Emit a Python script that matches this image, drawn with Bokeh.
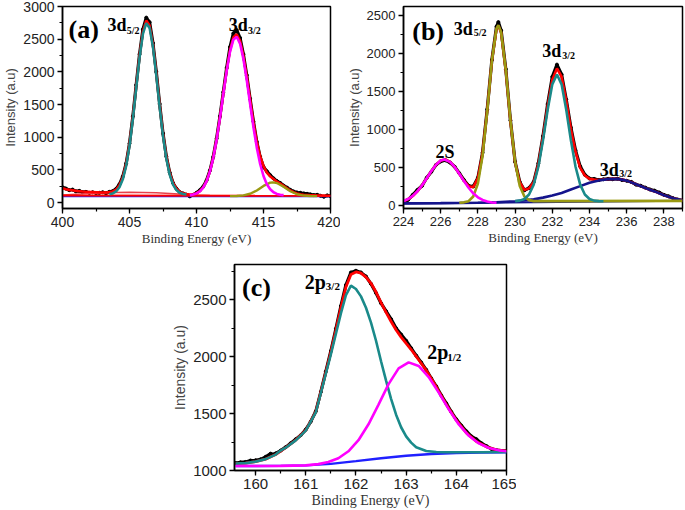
from bokeh.plotting import figure
from bokeh.models import Label, Spacer, SingleIntervalTicker
from bokeh.layouts import row, column
from bokeh.embed import file_html
from bokeh.resources import INLINE

# ---------------- Panel (a) data ----------------
a_x = [400.0, 400.25, 400.5, 400.75, 401.0, 401.25, 401.5, 401.75, 402.0, 402.25, 402.5, 402.75,
       403.0, 403.25, 403.5, 403.75, 404.0, 404.25, 404.5, 404.75, 405.0, 405.25, 405.5, 405.75,
       406.0, 406.25, 406.5, 406.75, 407.0, 407.25, 407.5, 407.75, 408.0, 408.25, 408.5, 408.75,
       409.0, 409.25, 409.5, 409.75, 410.0, 410.25, 410.5, 410.75, 411.0, 411.25, 411.5, 411.75,
       412.0, 412.25, 412.5, 412.75, 413.0, 413.25, 413.5, 413.75, 414.0, 414.25, 414.5, 414.75,
       415.0, 415.25, 415.5, 415.75, 416.0, 416.25, 416.5, 416.75, 417.0, 417.25, 417.5, 417.75,
       418.0, 418.25, 418.5, 418.75, 419.0, 419.25, 419.5, 419.75, 420.0]
a_data = [235, 215, 190, 200, 172, 180, 160, 165, 150, 158, 148, 150,
          158, 145, 165, 175, 210, 280, 400, 600, 905, 1320, 1800, 2270,
          2650, 2830, 2760, 2440, 2000, 1510, 1060, 705, 460, 300, 215, 160,
          140, 122, 95, 120, 150, 190, 245, 340, 490, 700, 980, 1320,
          1690, 2060, 2380, 2590, 2640, 2520, 2270, 1950, 1590, 1240, 930, 700,
          545, 480, 420, 370, 330, 300, 260, 230, 195, 170, 155, 150,
          140, 135, 125, 115, 120, 105, 90, 110, 100]
a_fit = [220, 205, 195, 188, 180, 175, 170, 166, 162, 160, 158, 156,
         155, 156, 162, 171, 200, 265, 386, 591, 898, 1309, 1784, 2250,
         2615, 2785, 2710, 2415, 1980, 1495, 1050, 700, 455, 300, 212, 165,
         142, 130, 125, 128, 145, 177, 235, 330, 480, 690, 968, 1305,
         1670, 2030, 2330, 2525, 2575, 2475, 2245, 1930, 1580, 1230, 930, 710,
         560, 460, 400, 360, 320, 290, 255, 220, 185, 160, 140, 128,
         120, 116, 112, 111, 110, 109, 108, 106, 105]
a_p1_x = [403.5, 403.75, 404.0, 404.25, 404.5, 404.75, 405.0, 405.25, 405.5, 405.75, 406.0, 406.25,
          406.5, 406.75, 407.0, 407.25, 407.5, 407.75, 408.0, 408.25, 408.5, 408.75, 409.0, 409.25]
a_p1_y = [128, 141, 171, 235, 356, 561, 868, 1279, 1754, 2220, 2580, 2745,
          2673, 2382, 1947, 1464, 1021, 671, 427, 276, 192, 150, 132, 124]
a_p2_x = [409.5, 409.75, 410.0, 410.25, 410.5, 410.75, 411.0, 411.25, 411.5, 411.75, 412.0, 412.25,
          412.5, 412.75, 413.0, 413.25, 413.5, 413.75, 414.0, 414.25, 414.5, 414.75, 415.0, 415.25,
          415.5, 415.75, 416.0, 416.25, 416.5]
a_p2_y = [115, 124, 141, 173, 231, 326, 473, 683, 959, 1293, 1657, 2012,
          2306, 2492, 2537, 2433, 2199, 1874, 1511, 1154, 841, 591, 407, 282,
          204, 158, 133, 120, 114]
a_p3_x = [412.5, 413.0, 413.5, 414.0, 414.5, 415.0, 415.5, 415.7, 416.0, 416.5, 417.0, 417.5, 418.0, 418.5, 419.0]
a_p3_y = [100, 102, 111, 135, 186, 255, 305, 310, 299, 242, 174, 128, 108, 102, 100]
a_broad_x = [400, 401, 402, 403, 404, 405, 406, 407, 408, 409, 410, 411]
a_broad_y = [118, 128, 138, 147, 153, 157, 155, 150, 140, 128, 116, 108]
a_bg_x = [400, 420]
a_bg_red = [108, 104]
a_bg_blue = [98, 98]

# ---------------- Panel (b) data ----------------
b_x = [224.0, 224.25, 224.5, 224.75, 225.0, 225.25, 225.5, 225.75, 226.0, 226.25, 226.5, 226.75,
       227.0, 227.25, 227.5, 227.75, 228.0, 228.25, 228.5, 228.75, 229.0, 229.1, 229.25, 229.5,
       229.75, 230.0, 230.25, 230.5, 230.75, 231.0, 231.25, 231.5, 231.75, 232.0, 232.25, 232.5,
       232.75, 233.0, 233.25, 233.5, 233.75, 234.0, 234.25, 234.5, 234.75, 235.0, 235.25, 235.5,
       235.75, 236.0, 236.25, 236.5, 236.75, 237.0, 237.25, 237.5, 237.75, 238.0, 238.25, 238.5,
       238.75, 239.0]
b_data = [40, 70, 135, 200, 255, 360, 440, 530, 575, 590, 560, 505,
          420, 330, 255, 245, 360, 690, 1260, 1910, 2350, 2410, 2300, 1790,
          1115, 570, 305, 195, 225, 305, 550, 910, 1330, 1690, 1850, 1720,
          1390, 1020, 720, 510, 400, 350, 345, 330, 340, 345, 340, 348,
          330, 320, 305, 270, 255, 230, 205, 190, 165, 135, 115, 90,
          72, 60]
b_fit = [51, 78, 120, 181, 261, 354, 450, 532, 586, 600, 570, 503,
         413, 321, 249, 236, 354, 683, 1248, 1897, 2318, 2365, 2270, 1770,
         1105, 562, 300, 200, 220, 300, 540, 898, 1306, 1650, 1800, 1690,
         1370, 1000, 700, 490, 390, 345, 335, 330, 338, 342, 345, 345,
         335, 322, 300, 275, 250, 225, 202, 180, 155, 130, 110, 90,
         75, 62]
b_2s_x = [224.0, 224.25, 224.5, 224.75, 225.0, 225.25, 225.5, 225.75, 226.0, 226.2, 226.5, 226.75,
          227.0, 227.25, 227.5, 227.75, 228.0, 228.25, 228.5, 228.75, 229.0]
b_2s_y = [54, 80, 122, 182, 261, 354, 450, 532, 586, 600, 569, 502,
          412, 316, 228, 155, 103, 68, 47, 35, 30]
b_p1_x = [227.0, 227.25, 227.5, 227.75, 228.0, 228.25, 228.5, 228.75, 229.0, 229.1, 229.25, 229.5,
          229.75, 230.0, 230.25, 230.5, 230.75, 231.0, 232.0, 239.0]
b_p1_y = [30, 36, 52, 113, 283, 648, 1233, 1895, 2325, 2370, 2275, 1776,
          1112, 569, 252, 112, 65, 52, 52, 55]
b_p2_x = [230.0, 230.25, 230.5, 230.75, 231.0, 231.25, 231.5, 231.75, 232.0, 232.25, 232.5, 232.75,
          233.0, 233.25, 233.5, 233.75, 234.0, 234.25, 234.5, 234.75]
b_p2_y = [52, 59, 81, 139, 269, 505, 853, 1256, 1590, 1720, 1590, 1256,
          853, 505, 269, 139, 81, 59, 52, 50]
b_p3_x = [224, 226, 228, 229, 230, 231, 231.5, 232, 232.5, 233, 233.5, 234, 234.5, 235, 235.5,
          236, 236.5, 237, 237.5, 238, 238.5, 239]
b_p3_y = [22, 26, 31, 38, 50, 75, 98, 125, 160, 205, 250, 295, 325, 342, 345,
          322, 275, 225, 180, 130, 90, 62]
b_bg_x = [224, 239]
b_bg_y = [22, 57]

# ---------------- Panel (c) data ----------------
c_x = [159.6, 159.7, 159.8, 159.9, 160.0, 160.1, 160.2, 160.3, 160.35, 160.4, 160.5, 160.6,
       160.7, 160.8, 160.9, 161.0, 161.1, 161.2, 161.3, 161.4, 161.5, 161.6, 161.7, 161.8,
       161.9, 162.0, 162.1, 162.2, 162.3, 162.4, 162.5, 162.6, 162.7, 162.8, 162.9, 163.0,
       163.1, 163.2, 163.3, 163.4, 163.5, 163.6, 163.7, 163.8, 163.9, 164.0, 164.1, 164.2,
       164.3, 164.4, 164.5, 164.6, 164.7, 164.8, 165.0]
c_data = [1065, 1072, 1075, 1088, 1090, 1098, 1120, 1148, 1140, 1150, 1175, 1205,
          1240, 1275, 1310, 1360, 1430, 1520, 1690, 1870, 2050, 2245, 2445, 2630,
          2740, 2755, 2740, 2705, 2640, 2560, 2470, 2400, 2330, 2250, 2195, 2140,
          2075, 2010, 1950, 1885, 1810, 1740, 1660, 1590, 1515, 1450, 1395, 1345,
          1300, 1275, 1240, 1215, 1190, 1180, 1170]
c_fit_x = [159.6, 159.8, 160.0, 160.2, 160.4, 160.6, 160.8, 161.0, 161.2, 161.3, 161.4, 161.5,
           161.6, 161.7, 161.8, 161.9, 162.0, 162.1, 162.2, 162.3, 162.4, 162.5, 162.6, 162.7,
           162.8, 162.9, 163.0, 163.1, 163.2, 163.3, 163.4, 163.6, 163.8, 164.0, 164.2, 164.4,
           164.6, 164.8, 165.0]
c_fit_y = [1060, 1065, 1078, 1100, 1140, 1201, 1267, 1353, 1515, 1688, 1862, 2040,
           2232, 2430, 2612, 2723, 2745, 2734, 2700, 2645, 2568, 2475, 2390, 2309,
           2235, 2172, 2117, 2063, 2003, 1942, 1881, 1735, 1581, 1442, 1331, 1255,
           1208, 1182, 1171]
c_p1_x = [159.6, 159.8, 160.0, 160.2, 160.4, 160.5, 160.6, 160.8, 161.0, 161.2, 161.3, 161.4,
          161.5, 161.6, 161.7, 161.8, 161.9, 162.0, 162.1, 162.2, 162.3, 162.4, 162.5, 162.6,
          162.7, 162.8, 162.9, 163.0, 163.1, 163.2, 163.4, 163.6, 163.8, 164.0, 164.5, 165.0]
c_p1_y = [1060, 1065, 1078, 1100, 1140, 1175, 1200, 1265, 1350, 1510, 1680, 1850,
          2020, 2200, 2380, 2540, 2625, 2595, 2530, 2430, 2300, 2140, 1960, 1790,
          1630, 1490, 1380, 1300, 1245, 1205, 1172, 1162, 1160, 1160, 1160, 1162]
c_p2_x = [159.6, 160.0, 160.5, 161.0, 161.25, 161.45, 161.65, 161.85, 162.05, 162.25, 162.45, 162.65,
          162.85, 163.05, 163.25, 163.45, 163.65, 163.85, 164.05, 164.25, 164.45, 164.65, 164.85, 165.0]
c_p2_y = [1040, 1040, 1041, 1045, 1056, 1074, 1108, 1169, 1266, 1406, 1579, 1759,
          1897, 1950, 1919, 1821, 1684, 1537, 1405, 1305, 1238, 1198, 1177, 1169]
c_bg_x = [159.6, 160.0, 160.5, 161.0, 161.5, 162.0, 162.5, 163.0, 163.5, 164.0, 164.5, 165.0]
c_bg_y = [1040, 1040, 1041, 1045, 1058, 1082, 1108, 1130, 1145, 1153, 1157, 1160]

# ticks
a_xtick, a_ytick = 5, 500
b_xtick, b_ytick = 2, 500
c_xtick, c_ytick = 1, 500

TEAL = "#1a8a8a"
MAG = "#ff00ff"
OLIVE = "#9a9a12"
NAVY = "#14148c"
BLUE = "#2020ff"
RED = "#ff0000"
SERIF = "Liberation Serif"
SANS = "Liberation Sans"


def make_fig(width, height, xr, yr, left, right, top, bottom, xint, yint, tick_fs, lab_fs):
    p = figure(width=width, height=height, x_range=xr, y_range=yr,
               output_backend="svg", toolbar_location=None,
               min_border_left=left, min_border_right=right,
               min_border_top=top, min_border_bottom=bottom)
    p.xgrid.visible = False
    p.ygrid.visible = False
    p.outline_line_color = "black"
    p.outline_line_width = 1.5
    p.outline_line_alpha = 1
    p.background_fill_color = "white"
    p.border_fill_color = "white"
    p.xaxis.ticker = SingleIntervalTicker(interval=xint, num_minor_ticks=2)
    p.yaxis.ticker = SingleIntervalTicker(interval=yint, num_minor_ticks=2)
    for ax in p.axis:
        ax.axis_line_width = 1.5
        ax.axis_line_color = "black"
        ax.major_tick_in = 0
        ax.major_tick_out = 5
        ax.minor_tick_in = 0
        ax.minor_tick_out = 3
        ax.major_tick_line_width = 1.3
        ax.minor_tick_line_width = 1.2
        ax.major_label_text_font = SANS
        ax.major_label_text_font_size = tick_fs
        ax.major_label_text_color = "#222222"
        ax.major_label_standoff = 3
        ax.axis_label_standoff = 2
        ax.axis_label_text_font_style = "normal"
        ax.axis_label_text_font_size = lab_fs
    p.xaxis.axis_label = "Binding Energy (eV)"
    p.xaxis.axis_label_text_font = SERIF
    p.xaxis.axis_label_text_color = "#333333"
    p.yaxis.axis_label = "Intensity (a.u)"
    p.yaxis.axis_label_text_font = SANS
    p.yaxis.axis_label_text_color = "#444444"
    p.xaxis.axis_label_standoff = 1
    return p


def lab(p, x, y, text, size):
    p.add_layout(Label(x=x, y=y, text=text, text_font=SERIF, text_font_style="bold",
                       text_font_size=size, text_color="black",
                       text_baseline="alphabetic", text_align="left"))


def draw_data(p, x, y):
    p.line(x, y, line_color="black", line_width=3.2)
    p.scatter(x, y, size=3, color="black")


# ---------------- Panel (a) ----------------
pa = make_fig(340, 248, (400, 420), (-90, 3000), 60, 10, 6, 39, a_xtick, a_ytick, "14px", "13px")
draw_data(pa, a_x, a_data)
pa.line(a_broad_x, a_broad_y, line_color="#e8404a", line_width=1.5)
pa.line(a_bg_x, a_bg_blue, line_color=BLUE, line_width=2)
pa.line(a_bg_x, a_bg_red, line_color=RED, line_width=2)
pa.line(a_x, a_fit, line_color=RED, line_width=2.6)
pa.line(a_p3_x, a_p3_y, line_color=OLIVE, line_width=2.4)
pa.line(a_p1_x, a_p1_y, line_color=TEAL, line_width=2.6)
pa.line(a_p2_x, a_p2_y, line_color=MAG, line_width=2.6)
lab(pa, 400.45, 2650, "(a)", "26px")
lab(pa, 403.35, 2711, "3d", "18px")
lab(pa, 404.8, 2635, "5/2", "10px")
lab(pa, 412.4, 2711, "3d", "18px")
lab(pa, 413.85, 2635, "3/2", "10px")

# ---------------- Panel (b) ----------------
pb = make_fig(345, 248, (224, 239), (-45, 2615), 63, 3, 4, 39, b_xtick, b_ytick, "13px", "13px")
draw_data(pb, b_x, b_data)
pb.line(b_bg_x, b_bg_y, line_color=NAVY, line_width=2)
pb.line(b_x, b_fit, line_color=RED, line_width=2.6)
pb.line(b_p3_x, b_p3_y, line_color=NAVY, line_width=2.6)
pb.line(b_p1_x, b_p1_y, line_color=OLIVE, line_width=2.6)
pb.line(b_p2_x, b_p2_y, line_color=TEAL, line_width=2.6)
pb.line(b_2s_x, b_2s_y, line_color=MAG, line_width=2.6)
lab(pb, 224.47, 2291, "(b)", "26px")
lab(pb, 226.7, 2320, "3d", "18px")
lab(pb, 227.78, 2269, "5/2", "10px")
lab(pb, 231.46, 2027, "3d", "18px")
lab(pb, 232.53, 1975, "3/2", "10px")
lab(pb, 225.72, 699, "2S", "18px")
lab(pb, 234.55, 461, "3d", "18px")
lab(pb, 235.6, 418, "3/2", "10px")

# ---------------- Panel (c) ----------------
pc = make_fig(347, 262, (159.58, 165), (1000, 2810), 60, 10, 16, 40, c_xtick, c_ytick, "15px", "14px")
draw_data(pc, c_x, c_data)
pc.line(c_bg_x, c_bg_y, line_color=BLUE, line_width=2.4)
pc.line(c_fit_x, c_fit_y, line_color=RED, line_width=2.8)
pc.line(c_p1_x, c_p1_y, line_color=TEAL, line_width=2.6)
pc.line(c_p2_x, c_p2_y, line_color=MAG, line_width=2.6)
lab(pc, 159.73, 2608, "(c)", "26px")
lab(pc, 160.98, 2654, "2p", "20px")
lab(pc, 161.4, 2617, "3/2", "11px")
lab(pc, 163.42, 2040, "2p", "20px")
lab(pc, 163.82, 1996, "1/2", "11px")

layout = column(row(pa, pb), row(Spacer(width=169, height=262), pc))

open("out.html", "w").write(file_html(layout, INLINE))
